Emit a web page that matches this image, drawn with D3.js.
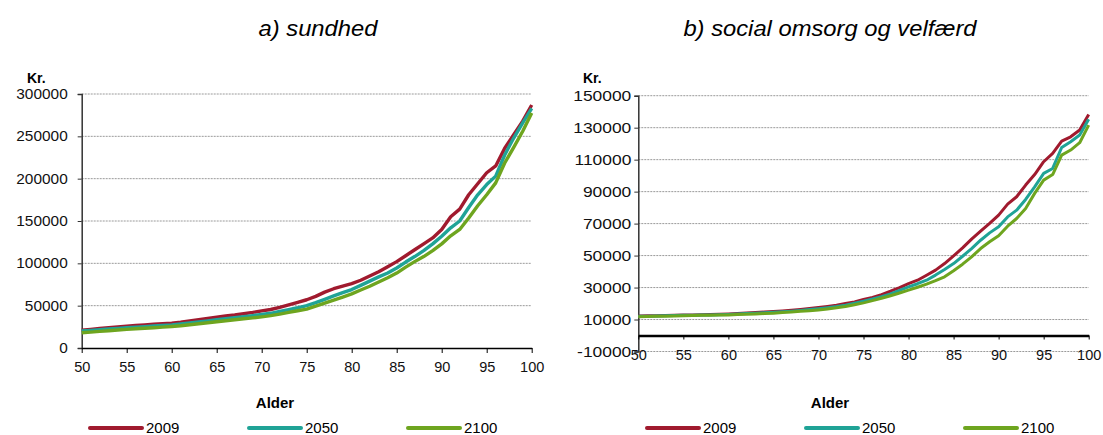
<!DOCTYPE html>
<html>
<head>
<meta charset="utf-8">
<script src="https://cdn.jsdelivr.net/npm/d3@7"></script>
<style>
  body { margin: 0; background: #fff; }
  svg { display: block; font-family: "Liberation Sans", Arial, sans-serif; }
</style>
</head>
<body>
<svg id="chart" width="1103" height="435"></svg>
<script>
// ages on the x axis
var ages = [50, 51, 52, 53, 54, 55, 56, 57, 58, 59, 60, 61, 62, 63, 64, 65, 66, 67, 68, 69, 70,
  71, 72, 73, 74, 75, 76, 77, 78, 79, 80, 81, 82, 83, 84, 85, 86, 87, 88, 89, 90,
  91, 92, 93, 94, 95, 96, 97, 98, 99, 100];
var years = ["2009", "2050", "2100"];

// a) sundhed
var health2009 = [21000, 22000, 23000, 24000, 25000, 25800, 26500, 27300, 28000, 28600, 29300,
  30500, 32000, 33500, 35000, 36300, 37800, 39000, 40500, 42000, 43800,
  45500, 48000, 51000, 54000, 57000, 61000, 66000, 70000, 73000, 76000,
  80000, 85000, 90000, 96000, 102000, 109000, 116000, 123000, 130000, 140000,
  155000, 164000, 181000, 194000, 207000, 215000, 236000, 252000, 268000, 287000];
var health2050 = [20000, 20800, 21600, 22400, 23200, 24000, 24700, 25300, 26000, 26600, 27300,
  28300, 29500, 30800, 32000, 33300, 34500, 35700, 37000, 38300, 39600,
  41000, 43300, 45300, 47500, 50000, 53500, 57500, 61500, 65300, 69000,
  74000, 79000, 84000, 88600, 94500, 101500, 108000, 115000, 123000, 132000,
  142000, 150000, 166000, 181000, 193000, 203000, 228000, 248000, 266000, 283000];
var health2100 = [18000, 18800, 19600, 20400, 21300, 22000, 22700, 23400, 24000, 24700, 25400,
  26300, 27500, 28700, 29800, 31000, 32200, 33400, 34500, 35600, 36800,
  38200, 40000, 42000, 44000, 46000, 49500, 53000, 56500, 60200, 64000,
  68500, 73000, 78000, 83000, 88500, 95500, 102000, 108000, 115000, 123000,
  132500, 140000, 153500, 168000, 181000, 195000, 218500, 237000, 256000, 277500];

// b) social omsorg og velfærd
var social2009 = [12200, 12300, 12400, 12500, 12650, 12800, 12900, 13000, 13100, 13300, 13500,
  13800, 14100, 14400, 14700, 15000, 15400, 15800, 16300, 16900, 17500,
  18200, 19000, 20000, 21000, 22500, 23800, 25600, 27700, 30000, 32500,
  34600, 37700, 40900, 45000, 49800, 54800, 60300, 65300, 70100, 75300,
  82200, 86800, 94100, 100700, 108700, 113900, 121600, 124300, 128500, 138300];
var social2050 = [12000, 12100, 12200, 12300, 12450, 12600, 12700, 12800, 12900, 13050, 13200,
  13450, 13700, 13950, 14200, 14500, 14850, 15200, 15650, 16200, 16800,
  17400, 18100, 19000, 20200, 21500, 22800, 24300, 26000, 28200, 30400,
  32400, 34600, 37800, 41300, 45000, 49600, 54400, 59600, 64200, 68000,
  74200, 78400, 85100, 93000, 101400, 104500, 117600, 121200, 125400, 135200];
var social2100 = [11800, 11900, 12000, 12100, 12250, 12400, 12500, 12600, 12700, 12800, 12900,
  13100, 13300, 13500, 13750, 14000, 14350, 14700, 15100, 15500, 16000,
  16600, 17300, 18200, 19300, 20400, 21800, 23300, 24900, 26600, 28400,
  30200, 32100, 34300, 36700, 40500, 44600, 49200, 54400, 58600, 62400,
  68400, 73200, 79500, 88900, 97200, 100700, 112800, 116000, 120600, 131600];

var xTicks = [50, 55, 60, 65, 70, 75, 80, 85, 90, 95, 100];
var healthTicks = [0, 50000, 100000, 150000, 200000, 250000, 300000];
var socialTicks = [-10000, 10000, 30000, 50000, 70000, 90000, 110000, 130000, 150000];

var colors = ["#a01a2e", "#1fa396", "#6ea51f"];

var svg = d3.select("#chart");

// the reference text is a bit wider than the font, stretch it sideways
function stretch(sel, k) {
  sel.each(function() {
    var n = this.getComputedTextLength();
    d3.select(this).attr("textLength", n * k).attr("lengthAdjust", "spacingAndGlyphs");
  });
}

function drawPanel(p) {
  var x = d3.scaleLinear().domain([50, 100]).range([p.left, p.right]);
  var y = d3.scaleLinear().domain([p.yTicks[0], p.yTicks[p.yTicks.length - 1]]).range([p.bottom, p.top]);
  var g = svg.append("g");

  // title
  var t = g.append("text").attr("x", p.titleX).attr("y", 28).attr("dy", "0.35em")
    .attr("text-anchor", "middle").style("font-size", "22px").style("font-style", "italic")
    .text(p.title);
  stretch(t, 1.08);

  // dotted gridlines
  g.selectAll(".grid").data(p.yTicks.filter(function(d) { return d != 0; }))
    .enter().append("line")
    .attr("x1", p.left).attr("x2", p.right)
    .attr("y1", function(d) { return y(d); }).attr("y2", function(d) { return y(d); })
    .attr("stroke", "#9a9a9a").attr("stroke-width", 1).attr("stroke-dasharray", "2,1");

  // y axis
  var yAxis = g.append("g").attr("transform", "translate(" + p.left + ",0)")
    .call(d3.axisLeft(y).tickValues(p.yTicks).tickSize(4).tickPadding(p.yPad)
      .tickFormat(function(d) { return String(d); }));
  yAxis.select(".domain").attr("stroke", "#333").attr("stroke-width", 1.5);
  yAxis.selectAll(".tick line").attr("stroke", "#333");
  yAxis.selectAll("text").style("font-size", p.yFont).attr("fill", "#111")
    .style("font-family", "Liberation Sans, Arial, sans-serif");
  stretch(yAxis.selectAll("text"), p.yStretch);

  // x axis at zero
  var xAxis = g.append("g").attr("transform", "translate(0," + y(0) + ")")
    .call(d3.axisBottom(x).tickValues(xTicks).tickSize(p.xTick).tickSizeOuter(0));
  xAxis.select(".domain").attr("stroke", "#000").attr("stroke-width", p.xWidth);
  xAxis.selectAll(".tick line").attr("stroke", "#000");
  xAxis.selectAll("text").attr("y", 19).attr("dy", "0.35em").style("font-size", "14.5px")
    .attr("fill", "#111").style("font-family", "Liberation Sans, Arial, sans-serif");

  // Kr. label
  g.append("text").attr("x", p.krX).attr("y", 78).attr("dy", "0.35em")
    .style("font-size", "14px").style("font-weight", "bold").text("Kr.");

  // series
  var line = d3.line().x(function(d, i) { return x(ages[i]); }).y(function(d) { return y(d); });
  p.series.forEach(function(s, i) {
    g.append("path").datum(s).attr("d", line).attr("fill", "none")
      .attr("stroke", colors[i]).attr("stroke-width", p.lineWidth)
      .attr("stroke-linejoin", "round");
  });

  // x axis title
  g.append("text").attr("x", p.alderX).attr("y", 403).attr("dy", "0.35em")
    .attr("text-anchor", "middle").style("font-size", "15px").style("font-weight", "bold")
    .text("Alder");

  // legend
  var leg = g.selectAll(".leg").data(years).enter().append("g")
    .attr("transform", function(d, i) { return "translate(" + (p.legX + i * 159) + ",428)"; });
  leg.append("line").attr("x1", 0).attr("x2", 52).attr("y1", 0).attr("y2", 0)
    .attr("stroke", function(d, i) { return colors[i]; }).attr("stroke-width", 4)
    .attr("stroke-linecap", "round");
  leg.append("text").attr("x", 56).attr("dy", "0.35em").style("font-size", "15px").text(function(d) { return d; });
}

drawPanel({
  title: "a) sundhed", titleX: 318,
  left: 81.7, right: 531.7, top: 94, bottom: 348,
  yTicks: healthTicks, yPad: 10, yFont: "14px", yStretch: 1.1,
  xTick: 5, xWidth: 1.7, krX: 27, alderX: 275, legX: 90, lineWidth: 3.4,
  series: [health2009, health2050, health2100]
});

drawPanel({
  title: "b) social omsorg og velfærd", titleX: 830,
  left: 638.3, right: 1088.7, top: 95.7, bottom: 351.5,
  yTicks: socialTicks, yPad: 3, yFont: "14.5px", yStretch: 1.2,
  xTick: 4, xWidth: 2.6, krX: 583, alderX: 830, legX: 647, lineWidth: 3,
  series: [social2009, social2050, social2100]
});
</script>
</body>
</html>
